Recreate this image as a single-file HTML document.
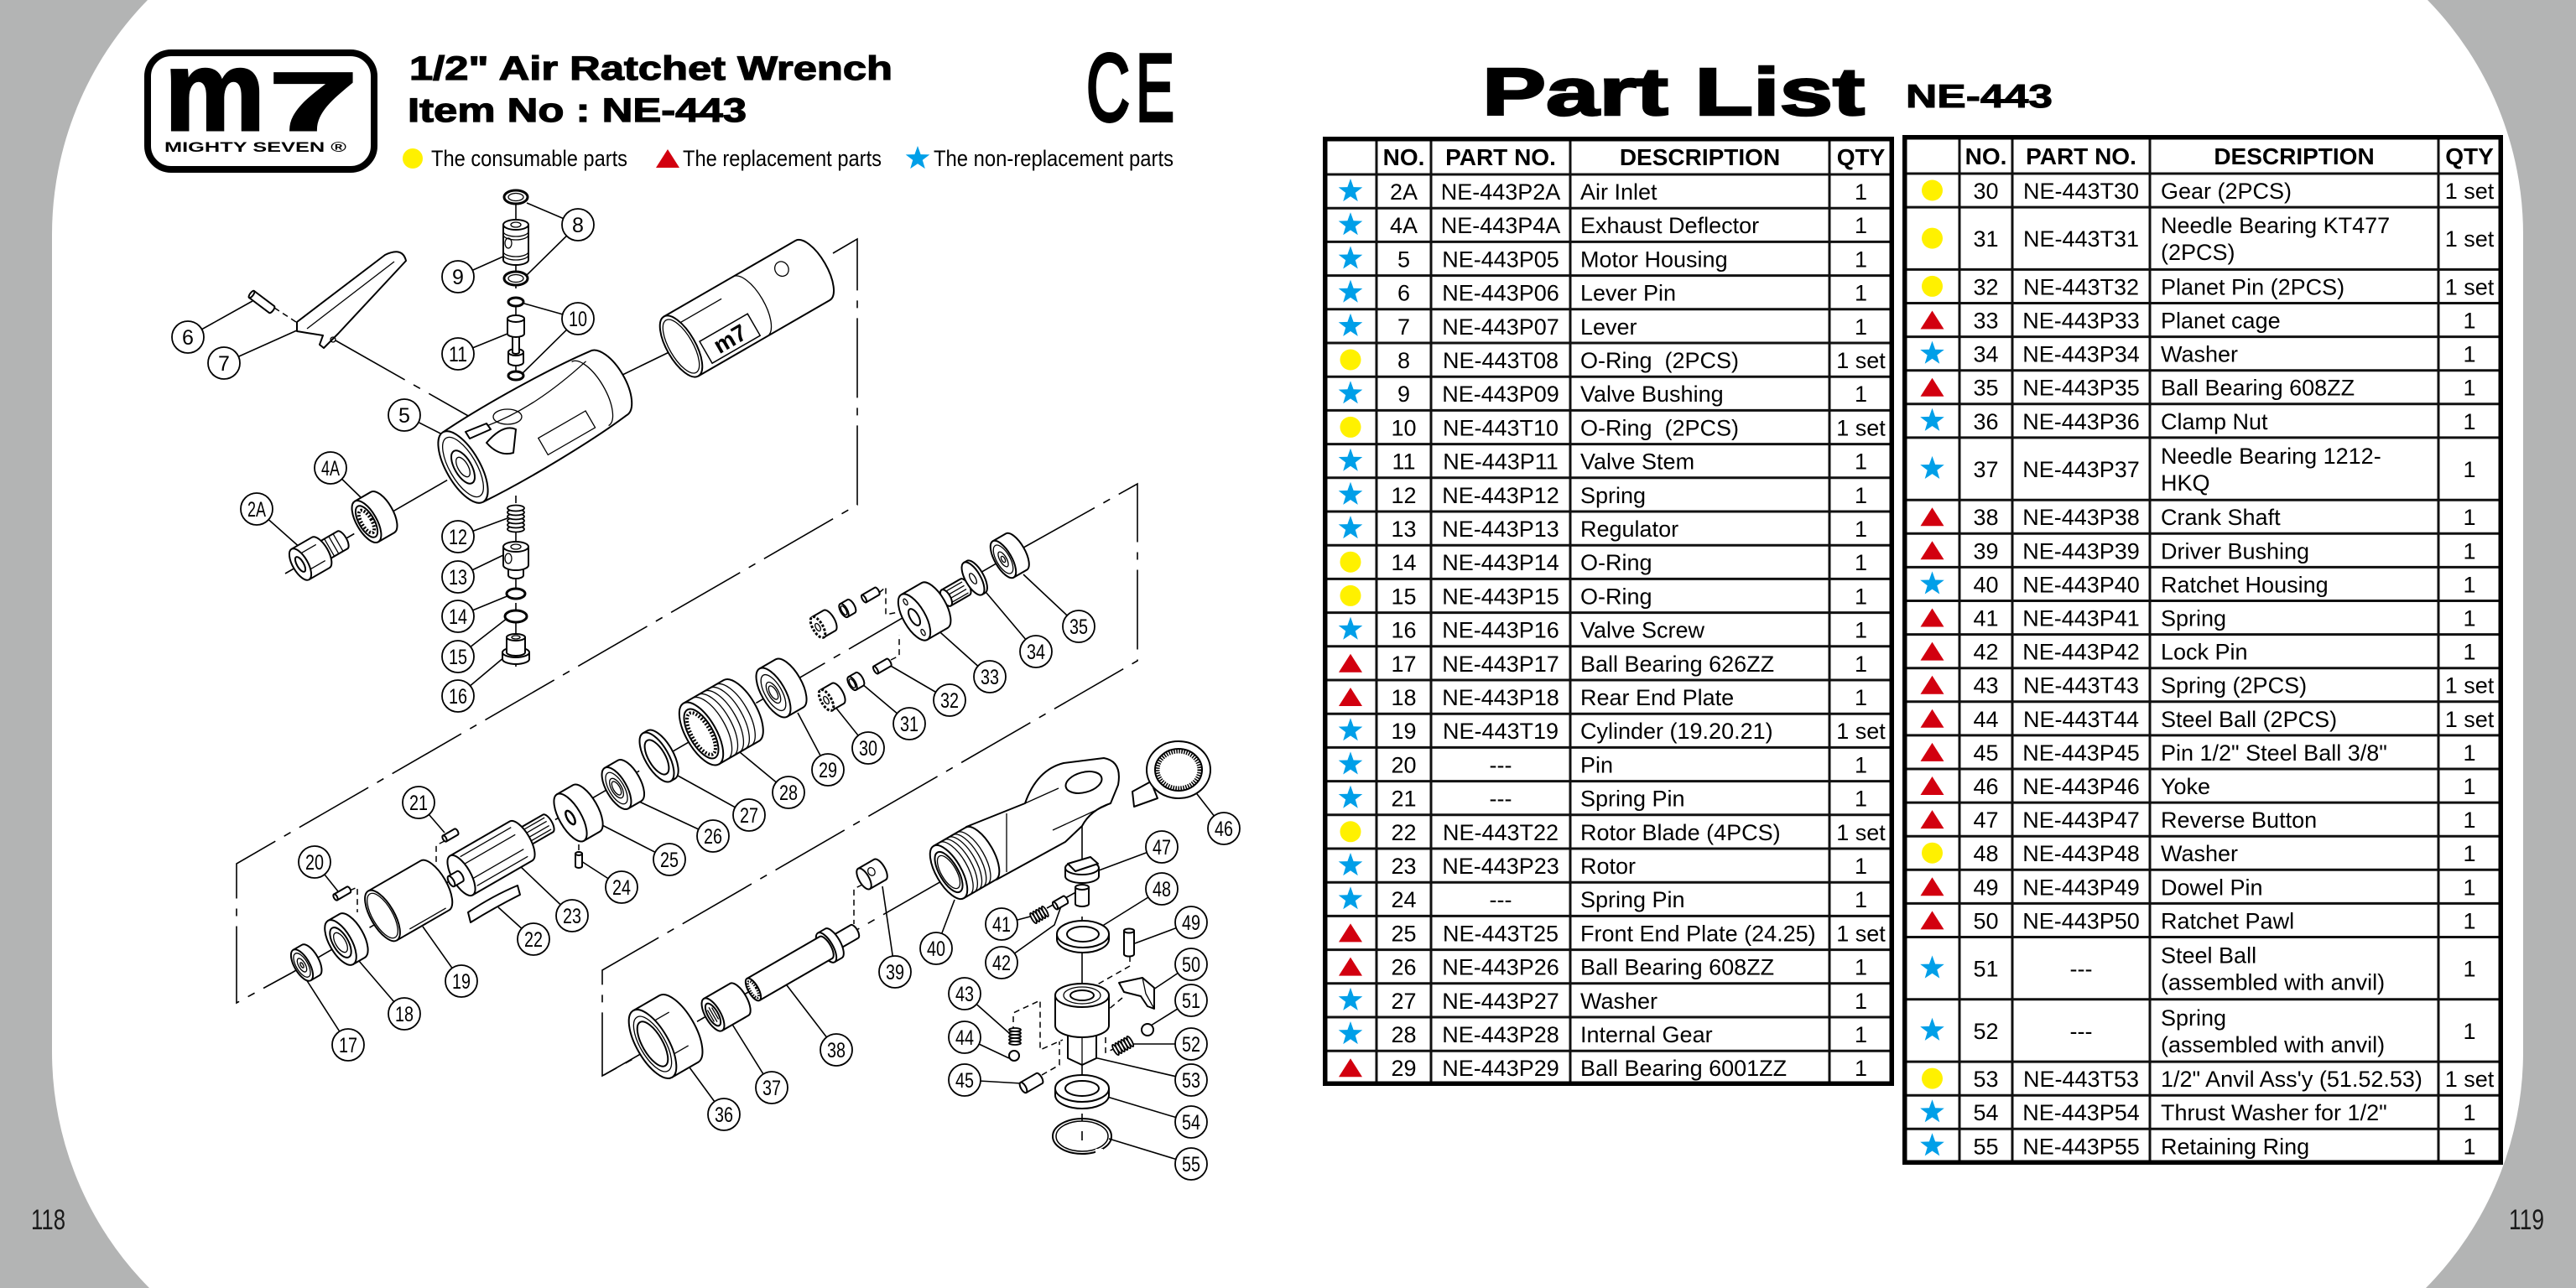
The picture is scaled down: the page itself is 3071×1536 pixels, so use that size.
<!DOCTYPE html>
<html><head><meta charset="utf-8">
<style>
html,body{margin:0;padding:0;background:#b3b4b4;}
body{width:3071px;height:1536px;overflow:hidden;}
svg{display:block}
.s{fill:#fff;stroke:#000;stroke-width:2;stroke-linejoin:round}
.t{fill:none;stroke:#000;stroke-width:1.3}
.ln{fill:none;stroke:#000;stroke-width:1.6}
.dd{fill:none;stroke:#000;stroke-width:1.6;stroke-dasharray:95 12 9 12}
.ds{fill:none;stroke:#000;stroke-width:1.5;stroke-dasharray:7 5}
.o{fill:#fff;stroke:#000;stroke-width:3}
.cc circle{fill:#fff;stroke:#000;stroke-width:1.8}
.cc text{font-family:'Liberation Sans',sans-serif;font-size:25px;text-anchor:middle;fill:#000}
.tb text{font-family:'Liberation Sans',sans-serif;font-size:27px;fill:#000}
.tb .c{text-anchor:middle}
.tb .h{font-weight:bold;font-size:28px;text-anchor:middle}
.tl{fill:none;stroke:#111;stroke-width:3}
.to{fill:none;stroke:#000;stroke-width:5.5}
</style></head>
<body>
<svg width="3071" height="1536" viewBox="0 0 3071 1536" xmlns="http://www.w3.org/2000/svg">
<defs>
<polygon id="st" fill="#009fe8" points="0,-15 3.6,-4.9 14.3,-4.6 5.8,1.9 8.8,12.1 0,6.2 -8.8,12.1 -5.8,1.9 -14.3,-4.6 -3.6,-4.9"/>
<circle id="ye" r="12.5" fill="#fff100"/>
<polygon id="tr" fill="#d2000f" points="0,-11 14,11 -14,11"/>
</defs>
<rect x="0" y="0" width="3071" height="1536" fill="#b3b4b4"/>
<path d="M176,0 A400 400 0 0 0 62,280 L62,1254 A400 400 0 0 0 178,1536 L2892,1536 A400 400 0 0 0 3008,1254 L3008,280 A400 400 0 0 0 2894,0 Z" fill="#fff"/>

<!-- Page numbers -->
<text x="37" y="1466" font-family="'Liberation Sans',sans-serif" font-size="34" textLength="41" lengthAdjust="spacingAndGlyphs" fill="#1a1a1a">118</text>
<text x="2991" y="1466" font-family="'Liberation Sans',sans-serif" font-size="34" textLength="42" lengthAdjust="spacingAndGlyphs" fill="#1a1a1a">119</text>

<!-- Logo -->
<rect x="176" y="63" width="270" height="139" rx="28" ry="28" fill="#fff" stroke="#000" stroke-width="8"/>
<text x="196" y="155" font-family="'Liberation Sans',sans-serif" font-size="135" font-weight="bold" textLength="120" lengthAdjust="spacingAndGlyphs" stroke="#000" stroke-width="3">m</text>
<text x="321" y="155" font-family="'Liberation Sans',sans-serif" font-size="98" font-weight="bold" textLength="105" lengthAdjust="spacingAndGlyphs" stroke="#000" stroke-width="3">7</text>
<text x="196" y="181" font-family="'Liberation Sans',sans-serif" font-size="17" font-weight="bold" textLength="217" lengthAdjust="spacingAndGlyphs">MIGHTY SEVEN ®</text>

<!-- Titles -->
<text x="488" y="95" font-family="'Liberation Sans',sans-serif" font-size="40" font-weight="bold" textLength="576" lengthAdjust="spacingAndGlyphs" stroke="#000" stroke-width="1.2">1/2" Air Ratchet Wrench</text>
<text x="486" y="145" font-family="'Liberation Sans',sans-serif" font-size="40" font-weight="bold" textLength="404" lengthAdjust="spacingAndGlyphs" stroke="#000" stroke-width="1.2">Item No : NE-443</text>
<text x="1295" y="144" font-family="'Liberation Sans',sans-serif" font-size="114" textLength="52" lengthAdjust="spacingAndGlyphs" stroke="#000" stroke-width="4">C</text>
<text x="1354" y="144" font-family="'Liberation Sans',sans-serif" font-size="114" textLength="46" lengthAdjust="spacingAndGlyphs" stroke="#000" stroke-width="4">E</text>

<!-- Legend -->
<ellipse cx="492" cy="189" rx="12" ry="12" fill="#fff100"/>
<text x="514" y="198" font-family="'Liberation Sans',sans-serif" font-size="27" textLength="234" lengthAdjust="spacingAndGlyphs">The consumable parts</text>
<polygon points="796,178 810,200 782,200" fill="#d2000f"/>
<text x="814" y="198" font-family="'Liberation Sans',sans-serif" font-size="27" textLength="237" lengthAdjust="spacingAndGlyphs">The replacement parts</text>
<use href="#st" x="1094" y="189"/>
<text x="1113" y="198" font-family="'Liberation Sans',sans-serif" font-size="27" textLength="286" lengthAdjust="spacingAndGlyphs">The non-replacement parts</text>

<!-- Part List title -->
<text x="1767" y="137" font-family="'Liberation Sans',sans-serif" font-size="80" font-weight="bold" textLength="456" lengthAdjust="spacingAndGlyphs" stroke="#000" stroke-width="2.5">Part List</text>
<text x="2272" y="128" font-family="'Liberation Sans',sans-serif" font-size="39" font-weight="bold" textLength="175" lengthAdjust="spacingAndGlyphs" stroke="#000" stroke-width="1">NE-443</text>

<!-- ============ DIAGRAM: guide lines ============ -->
<path class="dd" d="M993,302 L1022,285 L1022,602 L282,1030 L282,1196 L348,1160"/>
<path class="dd" d="M1222,652 L1356,577 L1356,788 L718,1157 L718,1283 L760,1260"/>
<path class="dd" d="M348,1160 L1222,652"/>
<path class="dd" d="M720,1282 L1150,1035"/>
<path class="dd" d="M340,684 L560,557"/>
<path class="ln" d="M738,449 L812,413"/>
<path class="dd" d="M400,406 L560,497"/>
<path class="ds" d="M327,367 L356,386"/>
<path class="dd" d="M615,228 L615,795"/>
<path class="dd" d="M1290,965 L1290,1360"/>
<path class="ds" d="M1048,707 L1056,700 L1056,733 L1071,730 M1062,787 L1072,782 L1072,757"/>
<path class="ds" d="M530,1003 L520,1008 L520,1033 M417,1062 L426,1058 L426,1088"/>
<path class="ds" d="M690,995 L690,1018"/>
<path class="ds" d="M1028,1055 L1018,1060 L1018,1102"/>
<path class="ds" d="M1208,1243 L1208,1208 L1240,1193 L1240,1252 L1267,1240 M1242,1282 L1263,1270 L1263,1242 M1347,1140 L1347,1152 L1303,1177 M1338,1190 L1320,1205 M1330,1250 L1318,1255 L1318,1232"/>
<path class="ln" d="M1248,1083 L1290,1060"/>

<!-- leader lines -->
<path class="ln" d="M306,607 L360,655 M394,558 L432,595 M482,495 L535,522 M224,402 L301,359 M267,433 L354,394 M689,268 L628,242 M689,268 L628,328 M546,330 L602,305 M689,380 L625,362 M689,380 L622,446 M546,422 L605,398 M546,640 L605,618 M546,688 L600,662 M546,735 L607,710 M546,783 L605,737 M546,830 L602,783 M415,1246 L365,1168 M482,1209 L428,1146 M550,1170 L504,1105 M375,1028 L403,1063 M499,957 L530,993 M636,1120 L594,1082 M682,1092 L619,1032 M741,1058 L693,1027 M798,1025 L714,982 M850,997 L760,955 M893,972 L808,925 M940,945 L882,897 M987,918 L951,850 M1035,892 L995,842 M1084,863 L1027,815 M1132,835 L1060,793 M1180,807 L1113,747 M1235,777 L1176,707 M1286,747 L1220,685 M863,1329 L822,1273 M920,1297 L872,1220 M997,1252 L938,1175 M1067,1159 L1052,1057 M1116,1131 L1138,1073 M1194,1102 L1232,1092 M1194,1148 L1257,1103 L1267,1075 M1150,1185 L1203,1232 M1150,1237 L1203,1262 M1150,1288 L1218,1292 M1459,988 L1424,943 M1385,1010 L1310,1038 M1385,1060 L1308,1108 M1420,1100 L1353,1125 M1420,1150 L1372,1182 M1420,1193 L1372,1223 M1420,1245 L1350,1245 M1420,1288 L1300,1260 M1420,1338 L1320,1308 M1420,1388 L1322,1358"/>

<!-- ============ PARTS ============ -->
<!-- 2A -->
<g transform="translate(358,673) rotate(-30)">
<path class="s" d="M26,-12 H58 A5 12 0 0 1 58,12 H26 Z"/>
<path class="t" d="M34,-12 V12 M40,-12 V12 M46,-12 V12 M52,-12 V12"/>
<path class="s" d="M0,-21 H28 A9 21 0 0 1 28,21 H0 Z"/>
<path class="t" d="M0,-11 H28 M0,11 H28"/>
<ellipse class="s" rx="9" ry="21"/>
<ellipse class="s" rx="4" ry="10"/>
</g>
<!-- 4A -->
<g transform="translate(437,622) rotate(-30)">
<path class="s" d="M0,-28 H22 A12 28 0 0 1 22,28 H0 Z"/>
<ellipse class="s" rx="12" ry="28"/>
<ellipse class="s" rx="9" ry="21"/>
<ellipse fill="none" stroke="#000" stroke-width="4" stroke-dasharray="2 2" rx="6" ry="15"/>
</g>
<!-- 5 housing -->
<g transform="translate(552,557) rotate(-30)">
<path class="s" d="M0,-48 C60,-52 150,-50 200,-44 A20 44 0 0 1 200,44 C150,50 60,52 0,48 Z"/>
<path class="t" d="M40,-30 C90,-20 140,-25 190,-36 M95,15 H160 V38 H95 Z M175,-44 A18 44 0 0 1 175,44"/>
<ellipse class="s" rx="20" ry="48"/>
<ellipse class="t" rx="16" ry="40"/>
<ellipse class="s" rx="10" ry="22"/>
<ellipse class="t" rx="6" ry="13"/>
</g>
<ellipse class="t" cx="605" cy="497" rx="17" ry="9"/>
<path class="s" d="M580,528 Q600,505 615,512 L612,540 Q595,545 580,528 Z"/>
<path class="s" d="M555,515 L580,505 L585,512 L560,523 Z"/>
<!-- tube -->
<g transform="translate(812,413) rotate(-30)">
<path class="s" d="M0,-41 H181 A17 41 0 0 1 181,41 H0 Z"/>
<path class="t" d="M95,-41 A17 41 0 0 1 95,41 M10,-25 H70"/>
<ellipse class="t" cx="150" cy="-20" rx="8" ry="9"/>
<rect x="22" y="6" width="66" height="30" fill="#fff" stroke="#000" stroke-width="1.5"/>
<text x="55" y="31" font-family="'Liberation Sans',sans-serif" font-size="28" font-weight="bold" text-anchor="middle">m7</text>
<ellipse class="s" rx="17" ry="41"/>
<ellipse class="t" rx="14" ry="36"/>
</g>
<!-- 7 lever, 6 pin -->
<path class="s" d="M354,384 L459,304 Q480,294 484,311 L403,398 L386,415 L381,411 L385,400 L366,397 L354,395 Z"/>
<path class="t" d="M366,392 L470,312"/>
<ellipse class="t" cx="397" cy="405" rx="3" ry="3"/>
<g transform="translate(300,351) rotate(37)">
<path class="s" d="M0,-5 H30 A2 5 0 0 1 30,5 H0 Z"/><ellipse class="s" rx="2" ry="5"/>
</g>
<!-- vertical group 8-16 -->
<ellipse class="o" cx="615" cy="235" rx="14" ry="8"/><ellipse class="t" cx="615" cy="235" rx="9" ry="4.5"/>
<g transform="translate(615,268) rotate(90)">
<path class="s" d="M0,-15 H42 A6 15 0 0 1 42,15 H0 Z"/>
<path class="t" d="M8,-15 A6 15 0 0 1 8,15 M12,-15 A6 15 0 0 1 12,15 M32,-15 A6 15 0 0 1 32,15 M36,-15 A6 15 0 0 1 36,15"/>
<ellipse class="s" rx="6" ry="15"/><ellipse class="t" rx="3" ry="6"/>
</g>
<ellipse class="t" cx="606" cy="290" rx="4" ry="6"/>
<ellipse class="o" cx="615" cy="332" rx="14" ry="8"/><ellipse class="t" cx="615" cy="332" rx="9" ry="4.5"/>
<ellipse class="o" cx="615" cy="360" rx="9" ry="5"/>
<g transform="translate(615,420) rotate(90)"><path class="s" d="M0,-9 H12 A4 9 0 0 1 12,9 H0 Z"/><ellipse class="s" rx="4" ry="9"/></g>
<g transform="translate(615,398) rotate(90)"><path class="s" d="M0,-4 H22 A2 4 0 0 1 22,4 H0 Z"/><ellipse class="s" rx="2" ry="4"/></g>
<g transform="translate(615,380) rotate(90)"><path class="s" d="M0,-10 H18 A4 10 0 0 1 18,10 H0 Z"/><ellipse class="s" rx="4" ry="10"/></g>
<ellipse class="o" cx="615" cy="448" rx="9" ry="5"/>
<g fill="#fff" stroke="#000" stroke-width="1.8">
<ellipse cx="615" cy="631" rx="10" ry="3.5"/><ellipse cx="615" cy="626" rx="10" ry="3.5"/><ellipse cx="615" cy="621" rx="10" ry="3.5"/><ellipse cx="615" cy="616" rx="10" ry="3.5"/><ellipse cx="615" cy="611" rx="10" ry="3.5"/><ellipse cx="615" cy="606" rx="10" ry="3.5"/>
</g>
<g transform="translate(615,672) rotate(90)"><path class="s" d="M0,-9 H14 A4 9 0 0 1 14,9 H0 Z"/><ellipse class="s" rx="4" ry="9"/></g>
<g transform="translate(615,652) rotate(90)"><path class="s" d="M0,-15 H22 A6 15 0 0 1 22,15 H0 Z"/><ellipse class="s" rx="6" ry="15"/><ellipse class="t" rx="3" ry="6"/></g>
<ellipse class="t" cx="606" cy="666" rx="4" ry="6"/>
<ellipse class="o" cx="615" cy="708" rx="11" ry="6"/>
<ellipse class="o" cx="615" cy="735" rx="13" ry="7"/>
<g transform="translate(615,778) rotate(90)"><path class="s" d="M0,-16 H8 A6 16 0 0 1 8,16 H0 Z"/><ellipse class="s" rx="6" ry="16"/></g>
<g transform="translate(615,760) rotate(90)"><path class="s" d="M0,-11 H18 A4 11 0 0 1 18,11 H0 Z"/><ellipse class="s" rx="4" ry="11"/><ellipse class="t" rx="2" ry="5"/></g>

<!-- motor group -->
<g transform="translate(360,1151) rotate(-30)"><path class="s" d="M0,-21 H12 A9 21 0 0 1 12,21 H0 Z"/><ellipse class="s" rx="9" ry="21"/><ellipse class="t" rx="7" ry="16"/><ellipse class="t" rx="4" ry="9"/><ellipse class="t" rx="1.5" ry="3.5"/></g>
<g transform="translate(406,1124) rotate(-30)"><path class="s" d="M0,-30 H16 A13 30 0 0 1 16,30 H0 Z"/><ellipse class="s" rx="13" ry="30"/><ellipse class="s" rx="9" ry="20"/><ellipse class="t" rx="6" ry="13"/></g>
<g transform="translate(456,1092) rotate(-30)"><path class="s" d="M0,-34 H72 A14 34 0 0 1 72,34 H0 Z"/><path class="t" d="M20,30 H70"/><ellipse class="s" rx="14" ry="34"/><ellipse class="t" rx="12" ry="30"/></g>
<g transform="translate(400,1070) rotate(-30)"><path class="s" d="M0,-4 H18 A2 4 0 0 1 18,4 H0 Z"/><ellipse class="s" rx="2" ry="4"/></g>
<g transform="translate(530,1000) rotate(-30)"><path class="s" d="M0,-4 H16 A2 4 0 0 1 16,4 H0 Z"/><ellipse class="s" rx="2" ry="4"/></g>
<path class="s" d="M558,1088 Q588,1068 617,1056 L620,1067 Q590,1082 561,1100 Z"/>
<g transform="translate(622,1000) rotate(-30)"><path class="s" d="M0,-12 H36 A5 12 0 0 1 36,12 H0 Z"/><path class="t" d="M4,-8 H36 M4,-3 H36 M4,3 H36 M4,8 H36"/><ellipse class="s" rx="5" ry="12"/></g>
<g transform="translate(550,1044) rotate(-30)"><path class="s" d="M0,-27 H82 A11 27 0 0 1 82,27 H0 Z"/><path class="t" d="M10,-20 H80 M10,-10 H80 M10,10 H80 M10,20 H80"/><ellipse class="s" rx="11" ry="27"/></g>
<g transform="translate(538,1051) rotate(-30)"><path class="s" d="M0,-7 H12 A3 7 0 0 1 12,7 H0 Z"/><ellipse class="s" rx="3" ry="7"/></g>
<g transform="translate(690,1018) rotate(90)"><path class="s" d="M0,-4 H15 A2 4 0 0 1 15,4 H0 Z"/><ellipse class="s" rx="2" ry="4"/></g>
<g transform="translate(680,975) rotate(-30)"><path class="s" d="M0,-32 H22 A13 32 0 0 1 22,32 H0 Z"/><ellipse class="s" rx="13" ry="32"/><ellipse fill="#fff" stroke="#000" stroke-width="2.5" rx="4" ry="9"/></g>
<g transform="translate(735,940) rotate(-30)"><path class="s" d="M0,-28 H18 A12 28 0 0 1 18,28 H0 Z"/><ellipse class="s" rx="12" ry="28"/><ellipse class="t" rx="9" ry="21"/><ellipse class="t" rx="6" ry="13"/><ellipse class="t" rx="4" ry="9"/></g>
<g transform="translate(783,903) rotate(-30)"><path class="s" d="M0,-33 H6 A14 33 0 0 1 6,33 H0 Z"/><ellipse class="s" rx="14" ry="33"/><ellipse class="s" rx="10" ry="23"/></g>
<g transform="translate(836,875) rotate(-30)"><path class="s" d="M0,-42 H55 A18 42 0 0 1 55,42 H0 Z"/><path class="t" d="M12,-42 A18 42 0 0 1 12,42 M20,-42 A18 42 0 0 1 20,42 M28,-42 A18 42 0 0 1 28,42 M36,-42 A18 42 0 0 1 36,42 M44,-42 A18 42 0 0 1 44,42"/><ellipse class="s" rx="18" ry="42"/><ellipse class="s" rx="14" ry="33"/><ellipse fill="none" stroke="#000" stroke-width="4" stroke-dasharray="2 2" rx="11" ry="28"/></g>
<g transform="translate(922,826) rotate(-30)"><path class="s" d="M0,-33 H22 A14 33 0 0 1 22,33 H0 Z"/><ellipse class="s" rx="14" ry="33"/><ellipse class="t" rx="10" ry="24"/><ellipse class="t" rx="6" ry="14"/><ellipse class="t" rx="4" ry="9"/></g>
<g transform="translate(975,748) rotate(-30)"><path class="s" d="M0,-14 H16 A6 14 0 0 1 16,14 H0 Z"/><ellipse fill="#fff" stroke="#000" stroke-width="3" stroke-dasharray="3 2" rx="6" ry="14"/><ellipse class="t" rx="2.5" ry="5"/></g>
<g transform="translate(985,835) rotate(-30)"><path class="s" d="M0,-14 H16 A6 14 0 0 1 16,14 H0 Z"/><ellipse fill="#fff" stroke="#000" stroke-width="3" stroke-dasharray="3 2" rx="6" ry="14"/><ellipse class="t" rx="2.5" ry="5"/></g>
<g transform="translate(1006,728) rotate(-30)"><path class="s" d="M0,-9 H10 A4 9 0 0 1 10,9 H0 Z"/><ellipse class="s" rx="4" ry="9"/><ellipse class="t" rx="2.5" ry="6"/></g>
<g transform="translate(1016,815) rotate(-30)"><path class="s" d="M0,-9 H10 A4 9 0 0 1 10,9 H0 Z"/><ellipse class="s" rx="4" ry="9"/><ellipse class="t" rx="2.5" ry="6"/></g>
<g transform="translate(1030,714) rotate(-30)"><path class="s" d="M0,-5 H18 A2 5 0 0 1 18,5 H0 Z"/><ellipse class="s" rx="2" ry="5"/></g>
<g transform="translate(1044,799) rotate(-30)"><path class="s" d="M0,-5 H18 A2 5 0 0 1 18,5 H0 Z"/><ellipse class="s" rx="2" ry="5"/></g>
<g transform="translate(1128,713) rotate(-30)"><path class="s" d="M0,-11 H26 A5 11 0 0 1 26,11 H0 Z"/><path class="t" d="M3,-7 H26 M3,-2 H26 M3,3 H26 M3,8 H26"/><ellipse class="s" rx="5" ry="11"/></g>
<g transform="translate(1090,736) rotate(-30)"><path class="s" d="M0,-31 H28 A13 31 0 0 1 28,31 H0 Z"/><ellipse class="s" rx="13" ry="31"/><ellipse class="s" rx="5" ry="11"/><ellipse class="t" cx="0" cy="-21" rx="2" ry="4"/><ellipse class="t" cx="0" cy="21" rx="2" ry="4"/></g>
<g transform="translate(1160,690) rotate(-30)"><path class="s" d="M0,-22 H4 A9 22 0 0 1 4,22 H0 Z"/><ellipse class="s" rx="9" ry="22"/><ellipse class="t" rx="3" ry="7"/></g>
<g transform="translate(1196,667) rotate(-30)"><path class="s" d="M0,-25 H18 A10 25 0 0 1 18,25 H0 Z"/><ellipse class="s" rx="10" ry="25"/><ellipse class="t" rx="8" ry="19"/><ellipse class="t" rx="4" ry="10"/><ellipse class="t" rx="2" ry="4"/></g>

<!-- ratchet group -->
<g transform="translate(778,1245) rotate(-30)"><path class="s" d="M0,-46 H36 A19 46 0 0 1 36,46 H0 Z"/><path class="t" d="M0,-23 H36 M0,23 H36"/><ellipse class="s" rx="19" ry="46"/><ellipse class="t" rx="15" ry="37"/><ellipse class="s" rx="12" ry="30"/></g>
<g transform="translate(850,1210) rotate(-30)"><path class="s" d="M0,-22 H36 A9 22 0 0 1 36,22 H0 Z"/><ellipse class="s" rx="9" ry="22"/><ellipse class="s" rx="6" ry="15"/><path class="t" d="M-3,-8 V8 M0,-10 V10 M3,-8 V8"/></g>
<g transform="translate(996,1124) rotate(-30)"><path class="s" d="M0,-9 H26 A4 9 0 0 1 26,9 H0 Z"/><ellipse class="s" rx="4" ry="9"/></g>
<g transform="translate(985,1130) rotate(-30)"><path class="s" d="M0,-20 H10 A8 20 0 0 1 10,20 H0 Z"/><ellipse class="s" rx="8" ry="20"/></g>
<g transform="translate(898,1180) rotate(-30)"><path class="s" d="M0,-15 H100 A6 15 0 0 1 100,15 H0 Z"/><ellipse class="s" rx="6" ry="15"/><ellipse fill="none" stroke="#000" stroke-width="3" stroke-dasharray="1.5 1.5" rx="4" ry="11"/></g>
<g transform="translate(1030,1048) rotate(-30)"><path class="s" d="M0,-14 H22 A6 14 0 0 1 22,14 H0 Z"/><ellipse class="s" rx="6" ry="14"/><ellipse class="t" cx="12" cy="-3" rx="4" ry="5"/></g>
<path class="s" d="M1152,986 L1222,958 Q1236,918 1268,910 L1316,904 Q1338,908 1333,936 L1324,958 Q1300,966 1290,985 L1270,1004 L1188,1049 Z"/>
<ellipse class="s" cx="1292" cy="933" rx="22" ry="12" transform="rotate(-15 1292 933)"/>
<path class="t" d="M1222,958 L1262,940 M1255,990 L1320,960 M1200,970 L1200,1040"/>
<g transform="translate(1131,1040) rotate(-30)"><path class="s" d="M0,-36 H44 A15 36 0 0 1 44,36 H0 Z"/><path class="t" d="M8,-36 A15 36 0 0 1 8,36 M14,-36 A15 36 0 0 1 14,36 M20,-36 A15 36 0 0 1 20,36 M26,-36 A15 36 0 0 1 26,36 M32,-36 A15 36 0 0 1 32,36"/><ellipse class="s" rx="15" ry="36"/><ellipse class="s" rx="11" ry="27"/><ellipse class="t" rx="9" ry="22"/></g>
<!-- yoke 46 -->
<path class="s" d="M1372,932 L1350,944 L1352,962 L1380,952 Z"/>
<ellipse class="s" cx="1405" cy="918" rx="38" ry="34"/>
<ellipse class="s" cx="1405" cy="918" rx="28" ry="25"/>
<ellipse fill="none" stroke="#000" stroke-width="5" stroke-dasharray="1.5 1.5" cx="1405" cy="918" rx="25" ry="22"/>

<!-- anvil group -->
<g transform="translate(1290,1058) rotate(90)"><path class="s" d="M0,-8 H20 A3 8 0 0 1 20,8 H0 Z"/><ellipse class="s" rx="3" ry="8"/></g>
<g transform="translate(1290,1035) rotate(90)"><path class="s" d="M0,-20 H10 A8 20 0 0 1 10,20 H0 Z"/><ellipse class="s" rx="8" ry="20"/></g>
<path class="s" d="M1273,1030 L1300,1022 L1309,1030 L1282,1039 Z"/>
<g transform="translate(1258,1080) rotate(-30)"><path class="s" d="M0,-5 H14 A2 5 0 0 1 14,5 H0 Z"/><ellipse class="s" rx="2" ry="5"/></g>
<g transform="translate(1232,1095) rotate(-30)" fill="#fff" stroke="#000" stroke-width="1.8"><ellipse cx="0" rx="2" ry="7"/><ellipse cx="4" rx="2" ry="7"/><ellipse cx="8" rx="2" ry="7"/><ellipse cx="12" rx="2" ry="7"/><ellipse cx="16" rx="2" ry="7"/></g>
<g transform="translate(1291,1114) rotate(90)"><path class="s" d="M0,-31 H6 A16 31 0 0 1 6,31 H0 Z"/><ellipse class="s" rx="16" ry="31"/><ellipse class="s" rx="9" ry="19"/></g>
<g transform="translate(1346,1110) rotate(90)"><path class="s" d="M0,-6 H28 A2.5 6 0 0 1 28,6 H0 Z"/><ellipse class="s" rx="2.5" ry="6"/></g>
<path class="s" d="M1334,1172 L1362,1166 L1376,1178 L1376,1203 L1368,1200 L1360,1188 L1340,1183 Z"/>
<path class="t" d="M1362,1166 L1366,1185 L1376,1203"/>
<path class="s" d="M1273,1228 L1307,1228 L1307,1262 L1290,1270 L1273,1262 Z"/>
<path class="t" d="M1290,1238 V1270"/>
<g transform="translate(1290,1187) rotate(90)"><path class="s" d="M0,-32 H36 A14 32 0 0 1 36,32 H0 Z"/><ellipse class="s" rx="14" ry="32"/><ellipse class="t" rx="10" ry="22"/><ellipse class="s" rx="6" ry="14"/></g>
<circle class="s" cx="1368" cy="1228" r="7"/>
<g transform="translate(1330,1252) rotate(-30)" fill="#fff" stroke="#000" stroke-width="1.8"><ellipse cx="0" rx="2" ry="7"/><ellipse cx="4" rx="2" ry="7"/><ellipse cx="8" rx="2" ry="7"/><ellipse cx="12" rx="2" ry="7"/><ellipse cx="16" rx="2" ry="7"/><ellipse cx="20" rx="2" ry="7"/></g>
<g transform="translate(1210,1228) rotate(90)" fill="#fff" stroke="#000" stroke-width="1.8"><ellipse cx="0" rx="2" ry="7"/><ellipse cx="4" rx="2" ry="7"/><ellipse cx="8" rx="2" ry="7"/><ellipse cx="12" rx="2" ry="7"/><ellipse cx="16" rx="2" ry="7"/></g>
<circle class="s" cx="1209" cy="1259" r="6"/>
<g transform="translate(1220,1297) rotate(-30)"><path class="s" d="M0,-7 H22 A3 7 0 0 1 22,7 H0 Z"/><ellipse class="s" rx="3" ry="7"/></g>
<g transform="translate(1290,1298) rotate(90)"><path class="s" d="M0,-32 H8 A16 32 0 0 1 8,32 H0 Z"/><ellipse class="s" rx="16" ry="32"/><ellipse class="s" rx="9" ry="20"/></g>
<ellipse fill="none" stroke="#000" stroke-width="2" cx="1290" cy="1355" rx="35" ry="21"/>
<ellipse fill="none" stroke="#000" stroke-width="1.5" cx="1290" cy="1355" rx="31" ry="18"/>
<rect x="1306" y="1370" width="9" height="9" fill="#fff"/>

<!-- callout circles -->
<g class="cc">
<circle cx="306" cy="607" r="19"/><text x="306" y="616" textLength="22" lengthAdjust="spacingAndGlyphs">2A</text>
<circle cx="394" cy="558" r="19"/><text x="394" y="567" textLength="22" lengthAdjust="spacingAndGlyphs">4A</text>
<circle cx="482" cy="495" r="19"/><text x="482" y="504">5</text>
<circle cx="224" cy="402" r="19"/><text x="224" y="411">6</text>
<circle cx="267" cy="433" r="19"/><text x="267" y="442">7</text>
<circle cx="689" cy="268" r="19"/><text x="689" y="277">8</text>
<circle cx="546" cy="330" r="19"/><text x="546" y="339">9</text>
<circle cx="689" cy="380" r="19"/><text x="689" y="389" textLength="22" lengthAdjust="spacingAndGlyphs">10</text>
<circle cx="546" cy="422" r="19"/><text x="546" y="431" textLength="22" lengthAdjust="spacingAndGlyphs">11</text>
<circle cx="546" cy="640" r="19"/><text x="546" y="649" textLength="22" lengthAdjust="spacingAndGlyphs">12</text>
<circle cx="546" cy="688" r="19"/><text x="546" y="697" textLength="22" lengthAdjust="spacingAndGlyphs">13</text>
<circle cx="546" cy="735" r="19"/><text x="546" y="744" textLength="22" lengthAdjust="spacingAndGlyphs">14</text>
<circle cx="546" cy="783" r="19"/><text x="546" y="792" textLength="22" lengthAdjust="spacingAndGlyphs">15</text>
<circle cx="546" cy="830" r="19"/><text x="546" y="839" textLength="22" lengthAdjust="spacingAndGlyphs">16</text>
<circle cx="415" cy="1246" r="19"/><text x="415" y="1255" textLength="22" lengthAdjust="spacingAndGlyphs">17</text>
<circle cx="482" cy="1209" r="19"/><text x="482" y="1218" textLength="22" lengthAdjust="spacingAndGlyphs">18</text>
<circle cx="550" cy="1170" r="19"/><text x="550" y="1179" textLength="22" lengthAdjust="spacingAndGlyphs">19</text>
<circle cx="375" cy="1028" r="19"/><text x="375" y="1037" textLength="22" lengthAdjust="spacingAndGlyphs">20</text>
<circle cx="499" cy="957" r="19"/><text x="499" y="966" textLength="22" lengthAdjust="spacingAndGlyphs">21</text>
<circle cx="636" cy="1120" r="19"/><text x="636" y="1129" textLength="22" lengthAdjust="spacingAndGlyphs">22</text>
<circle cx="682" cy="1092" r="19"/><text x="682" y="1101" textLength="22" lengthAdjust="spacingAndGlyphs">23</text>
<circle cx="741" cy="1058" r="19"/><text x="741" y="1067" textLength="22" lengthAdjust="spacingAndGlyphs">24</text>
<circle cx="798" cy="1025" r="19"/><text x="798" y="1034" textLength="22" lengthAdjust="spacingAndGlyphs">25</text>
<circle cx="850" cy="997" r="19"/><text x="850" y="1006" textLength="22" lengthAdjust="spacingAndGlyphs">26</text>
<circle cx="893" cy="972" r="19"/><text x="893" y="981" textLength="22" lengthAdjust="spacingAndGlyphs">27</text>
<circle cx="940" cy="945" r="19"/><text x="940" y="954" textLength="22" lengthAdjust="spacingAndGlyphs">28</text>
<circle cx="987" cy="918" r="19"/><text x="987" y="927" textLength="22" lengthAdjust="spacingAndGlyphs">29</text>
<circle cx="1035" cy="892" r="19"/><text x="1035" y="901" textLength="22" lengthAdjust="spacingAndGlyphs">30</text>
<circle cx="1084" cy="863" r="19"/><text x="1084" y="872" textLength="22" lengthAdjust="spacingAndGlyphs">31</text>
<circle cx="1132" cy="835" r="19"/><text x="1132" y="844" textLength="22" lengthAdjust="spacingAndGlyphs">32</text>
<circle cx="1180" cy="807" r="19"/><text x="1180" y="816" textLength="22" lengthAdjust="spacingAndGlyphs">33</text>
<circle cx="1235" cy="777" r="19"/><text x="1235" y="786" textLength="22" lengthAdjust="spacingAndGlyphs">34</text>
<circle cx="1286" cy="747" r="19"/><text x="1286" y="756" textLength="22" lengthAdjust="spacingAndGlyphs">35</text>
<circle cx="863" cy="1329" r="19"/><text x="863" y="1338" textLength="22" lengthAdjust="spacingAndGlyphs">36</text>
<circle cx="920" cy="1297" r="19"/><text x="920" y="1306" textLength="22" lengthAdjust="spacingAndGlyphs">37</text>
<circle cx="997" cy="1252" r="19"/><text x="997" y="1261" textLength="22" lengthAdjust="spacingAndGlyphs">38</text>
<circle cx="1067" cy="1159" r="19"/><text x="1067" y="1168" textLength="22" lengthAdjust="spacingAndGlyphs">39</text>
<circle cx="1116" cy="1131" r="19"/><text x="1116" y="1140" textLength="22" lengthAdjust="spacingAndGlyphs">40</text>
<circle cx="1194" cy="1102" r="19"/><text x="1194" y="1111" textLength="22" lengthAdjust="spacingAndGlyphs">41</text>
<circle cx="1194" cy="1148" r="19"/><text x="1194" y="1157" textLength="22" lengthAdjust="spacingAndGlyphs">42</text>
<circle cx="1150" cy="1185" r="19"/><text x="1150" y="1194" textLength="22" lengthAdjust="spacingAndGlyphs">43</text>
<circle cx="1150" cy="1237" r="19"/><text x="1150" y="1246" textLength="22" lengthAdjust="spacingAndGlyphs">44</text>
<circle cx="1150" cy="1288" r="19"/><text x="1150" y="1297" textLength="22" lengthAdjust="spacingAndGlyphs">45</text>
<circle cx="1459" cy="988" r="19"/><text x="1459" y="997" textLength="22" lengthAdjust="spacingAndGlyphs">46</text>
<circle cx="1385" cy="1010" r="19"/><text x="1385" y="1019" textLength="22" lengthAdjust="spacingAndGlyphs">47</text>
<circle cx="1385" cy="1060" r="19"/><text x="1385" y="1069" textLength="22" lengthAdjust="spacingAndGlyphs">48</text>
<circle cx="1420" cy="1100" r="19"/><text x="1420" y="1109" textLength="22" lengthAdjust="spacingAndGlyphs">49</text>
<circle cx="1420" cy="1150" r="19"/><text x="1420" y="1159" textLength="22" lengthAdjust="spacingAndGlyphs">50</text>
<circle cx="1420" cy="1193" r="19"/><text x="1420" y="1202" textLength="22" lengthAdjust="spacingAndGlyphs">51</text>
<circle cx="1420" cy="1245" r="19"/><text x="1420" y="1254" textLength="22" lengthAdjust="spacingAndGlyphs">52</text>
<circle cx="1420" cy="1288" r="19"/><text x="1420" y="1297" textLength="22" lengthAdjust="spacingAndGlyphs">53</text>
<circle cx="1420" cy="1338" r="19"/><text x="1420" y="1347" textLength="22" lengthAdjust="spacingAndGlyphs">54</text>
<circle cx="1420" cy="1388" r="19"/><text x="1420" y="1397" textLength="22" lengthAdjust="spacingAndGlyphs">55</text>
</g>

<!-- ============ LEFT TABLE ============ -->
<g class="tb">
<rect x="1579.75" y="165.75" width="675.5" height="1126.5" fill="#fff"/>
<path class="tl" d="M1641,165V1293 M1706,165V1293 M1872,165V1293 M2181,165V1293"/>
<path class="tl" d="M1578,208H2256 M1578,248.2H2256 M1578,288.4H2256 M1578,328.6H2256 M1578,368.8H2256 M1578,409H2256 M1578,449.2H2256 M1578,489.4H2256 M1578,529.6H2256 M1578,569.8H2256 M1578,610H2256 M1578,650.2H2256 M1578,690.4H2256 M1578,730.6H2256 M1578,770.8H2256 M1578,811H2256 M1578,851.2H2256 M1578,891.4H2256 M1578,931.6H2256 M1578,971.8H2256 M1578,1012H2256 M1578,1052.2H2256 M1578,1092.4H2256 M1578,1132.6H2256 M1578,1172.8H2256 M1578,1213H2256 M1578,1253.2H2256"/>
<rect class="to" x="1579.75" y="165.75" width="675.5" height="1126.5"/>
<text class="h" x="1673.5" y="197">NO.</text><text class="h" x="1789" y="197">PART NO.</text><text class="h" x="2026.5" y="197">DESCRIPTION</text><text class="h" x="2218.5" y="197">QTY</text>

<g transform="translate(0,208)"><use href="#st" x="1610" y="20"/><text class="c" x="1673.5" y="30">2A</text><text class="c" x="1789" y="30">NE-443P2A</text><text x="1884" y="30">Air Inlet</text><text class="c" x="2218.5" y="30">1</text></g>
<g transform="translate(0,248.2)"><use href="#st" x="1610" y="20"/><text class="c" x="1673.5" y="30">4A</text><text class="c" x="1789" y="30">NE-443P4A</text><text x="1884" y="30">Exhaust Deflector</text><text class="c" x="2218.5" y="30">1</text></g>
<g transform="translate(0,288.4)"><use href="#st" x="1610" y="20"/><text class="c" x="1673.5" y="30">5</text><text class="c" x="1789" y="30">NE-443P05</text><text x="1884" y="30">Motor Housing</text><text class="c" x="2218.5" y="30">1</text></g>
<g transform="translate(0,328.6)"><use href="#st" x="1610" y="20"/><text class="c" x="1673.5" y="30">6</text><text class="c" x="1789" y="30">NE-443P06</text><text x="1884" y="30">Lever Pin</text><text class="c" x="2218.5" y="30">1</text></g>
<g transform="translate(0,368.8)"><use href="#st" x="1610" y="20"/><text class="c" x="1673.5" y="30">7</text><text class="c" x="1789" y="30">NE-443P07</text><text x="1884" y="30">Lever</text><text class="c" x="2218.5" y="30">1</text></g>
<g transform="translate(0,409)"><use href="#ye" x="1610" y="20"/><text class="c" x="1673.5" y="30">8</text><text class="c" x="1789" y="30">NE-443T08</text><text x="1884" y="30">O-Ring&#160; (2PCS)</text><text class="c" x="2218.5" y="30">1 set</text></g>
<g transform="translate(0,449.2)"><use href="#st" x="1610" y="20"/><text class="c" x="1673.5" y="30">9</text><text class="c" x="1789" y="30">NE-443P09</text><text x="1884" y="30">Valve Bushing</text><text class="c" x="2218.5" y="30">1</text></g>
<g transform="translate(0,489.4)"><use href="#ye" x="1610" y="20"/><text class="c" x="1673.5" y="30">10</text><text class="c" x="1789" y="30">NE-443T10</text><text x="1884" y="30">O-Ring&#160; (2PCS)</text><text class="c" x="2218.5" y="30">1 set</text></g>
<g transform="translate(0,529.6)"><use href="#st" x="1610" y="20"/><text class="c" x="1673.5" y="30">11</text><text class="c" x="1789" y="30">NE-443P11</text><text x="1884" y="30">Valve Stem</text><text class="c" x="2218.5" y="30">1</text></g>
<g transform="translate(0,569.8)"><use href="#st" x="1610" y="20"/><text class="c" x="1673.5" y="30">12</text><text class="c" x="1789" y="30">NE-443P12</text><text x="1884" y="30">Spring</text><text class="c" x="2218.5" y="30">1</text></g>
<g transform="translate(0,610)"><use href="#st" x="1610" y="20"/><text class="c" x="1673.5" y="30">13</text><text class="c" x="1789" y="30">NE-443P13</text><text x="1884" y="30">Regulator</text><text class="c" x="2218.5" y="30">1</text></g>
<g transform="translate(0,650.2)"><use href="#ye" x="1610" y="20"/><text class="c" x="1673.5" y="30">14</text><text class="c" x="1789" y="30">NE-443P14</text><text x="1884" y="30">O-Ring</text><text class="c" x="2218.5" y="30">1</text></g>
<g transform="translate(0,690.4)"><use href="#ye" x="1610" y="20"/><text class="c" x="1673.5" y="30">15</text><text class="c" x="1789" y="30">NE-443P15</text><text x="1884" y="30">O-Ring</text><text class="c" x="2218.5" y="30">1</text></g>
<g transform="translate(0,730.6)"><use href="#st" x="1610" y="20"/><text class="c" x="1673.5" y="30">16</text><text class="c" x="1789" y="30">NE-443P16</text><text x="1884" y="30">Valve Screw</text><text class="c" x="2218.5" y="30">1</text></g>
<g transform="translate(0,770.8)"><use href="#tr" x="1610" y="20"/><text class="c" x="1673.5" y="30">17</text><text class="c" x="1789" y="30">NE-443P17</text><text x="1884" y="30">Ball Bearing 626ZZ</text><text class="c" x="2218.5" y="30">1</text></g>
<g transform="translate(0,811)"><use href="#tr" x="1610" y="20"/><text class="c" x="1673.5" y="30">18</text><text class="c" x="1789" y="30">NE-443P18</text><text x="1884" y="30">Rear End Plate</text><text class="c" x="2218.5" y="30">1</text></g>
<g transform="translate(0,851.2)"><use href="#st" x="1610" y="20"/><text class="c" x="1673.5" y="30">19</text><text class="c" x="1789" y="30">NE-443T19</text><text x="1884" y="30">Cylinder (19.20.21)</text><text class="c" x="2218.5" y="30">1 set</text></g>
<g transform="translate(0,891.4)"><use href="#st" x="1610" y="20"/><text class="c" x="1673.5" y="30">20</text><text class="c" x="1789" y="30">---</text><text x="1884" y="30">Pin</text><text class="c" x="2218.5" y="30">1</text></g>
<g transform="translate(0,931.6)"><use href="#st" x="1610" y="20"/><text class="c" x="1673.5" y="30">21</text><text class="c" x="1789" y="30">---</text><text x="1884" y="30">Spring Pin</text><text class="c" x="2218.5" y="30">1</text></g>
<g transform="translate(0,971.8)"><use href="#ye" x="1610" y="20"/><text class="c" x="1673.5" y="30">22</text><text class="c" x="1789" y="30">NE-443T22</text><text x="1884" y="30">Rotor Blade (4PCS)</text><text class="c" x="2218.5" y="30">1 set</text></g>
<g transform="translate(0,1012)"><use href="#st" x="1610" y="20"/><text class="c" x="1673.5" y="30">23</text><text class="c" x="1789" y="30">NE-443P23</text><text x="1884" y="30">Rotor</text><text class="c" x="2218.5" y="30">1</text></g>
<g transform="translate(0,1052.2)"><use href="#st" x="1610" y="20"/><text class="c" x="1673.5" y="30">24</text><text class="c" x="1789" y="30">---</text><text x="1884" y="30">Spring Pin</text><text class="c" x="2218.5" y="30">1</text></g>
<g transform="translate(0,1092.4)"><use href="#tr" x="1610" y="20"/><text class="c" x="1673.5" y="30">25</text><text class="c" x="1789" y="30">NE-443T25</text><text x="1884" y="30">Front End Plate (24.25)</text><text class="c" x="2218.5" y="30">1 set</text></g>
<g transform="translate(0,1132.6)"><use href="#tr" x="1610" y="20"/><text class="c" x="1673.5" y="30">26</text><text class="c" x="1789" y="30">NE-443P26</text><text x="1884" y="30">Ball Bearing 608ZZ</text><text class="c" x="2218.5" y="30">1</text></g>
<g transform="translate(0,1172.8)"><use href="#st" x="1610" y="20"/><text class="c" x="1673.5" y="30">27</text><text class="c" x="1789" y="30">NE-443P27</text><text x="1884" y="30">Washer</text><text class="c" x="2218.5" y="30">1</text></g>
<g transform="translate(0,1213)"><use href="#st" x="1610" y="20"/><text class="c" x="1673.5" y="30">28</text><text class="c" x="1789" y="30">NE-443P28</text><text x="1884" y="30">Internal Gear</text><text class="c" x="2218.5" y="30">1</text></g>
<g transform="translate(0,1253.2)"><use href="#tr" x="1610" y="20"/><text class="c" x="1673.5" y="30">29</text><text class="c" x="1789" y="30">NE-443P29</text><text x="1884" y="30">Ball Bearing 6001ZZ</text><text class="c" x="2218.5" y="30">1</text></g>
</g>

<!-- ============ RIGHT TABLE ============ -->
<g class="tb">
<rect x="2270.75" y="163.75" width="710.5" height="1222.5" fill="#fff"/>
<path class="tl" d="M2336,163V1387 M2399,163V1387 M2563,163V1387 M2907,163V1387"/>
<path class="tl" d="M2269,207H2983 M2269,247.1H2983 M2269,321.4H2983 M2269,361.5H2983 M2269,401.6H2983 M2269,441.7H2983 M2269,481.8H2983 M2269,521.9H2983 M2269,596.2H2983 M2269,636.3H2983 M2269,676.4H2983 M2269,716.5H2983 M2269,756.6H2983 M2269,796.7H2983 M2269,836.8H2983 M2269,876.9H2983 M2269,917H2983 M2269,957.1H2983 M2269,997.2H2983 M2269,1037.3H2983 M2269,1077.4H2983 M2269,1117.5H2983 M2269,1191.8H2983 M2269,1266.1H2983 M2269,1306.2H2983 M2269,1346.3H2983"/>
<rect class="to" x="2270.75" y="163.75" width="710.5" height="1222.5"/>
<text class="h" x="2367.5" y="196">NO.</text><text class="h" x="2481" y="196">PART NO.</text><text class="h" x="2735" y="196">DESCRIPTION</text><text class="h" x="2944" y="196">QTY</text>

<g transform="translate(0,207)"><use href="#ye" x="2303.5" y="20"/><text class="c" x="2367.5" y="30">30</text><text class="c" x="2481" y="30">NE-443T30</text><text x="2576" y="30">Gear (2PCS)</text><text class="c" x="2944" y="30">1 set</text></g>
<g transform="translate(0,247.1)"><use href="#ye" x="2303.5" y="37"/><text class="c" x="2367.5" y="47">31</text><text class="c" x="2481" y="47">NE-443T31</text><text x="2576" y="31">Needle Bearing KT477</text><text x="2576" y="63">(2PCS)</text><text class="c" x="2944" y="47">1 set</text></g>
<g transform="translate(0,321.4)"><use href="#ye" x="2303.5" y="20"/><text class="c" x="2367.5" y="30">32</text><text class="c" x="2481" y="30">NE-443T32</text><text x="2576" y="30">Planet Pin (2PCS)</text><text class="c" x="2944" y="30">1 set</text></g>
<g transform="translate(0,361.5)"><use href="#tr" x="2303.5" y="20"/><text class="c" x="2367.5" y="30">33</text><text class="c" x="2481" y="30">NE-443P33</text><text x="2576" y="30">Planet cage</text><text class="c" x="2944" y="30">1</text></g>
<g transform="translate(0,401.6)"><use href="#st" x="2303.5" y="20"/><text class="c" x="2367.5" y="30">34</text><text class="c" x="2481" y="30">NE-443P34</text><text x="2576" y="30">Washer</text><text class="c" x="2944" y="30">1</text></g>
<g transform="translate(0,441.7)"><use href="#tr" x="2303.5" y="20"/><text class="c" x="2367.5" y="30">35</text><text class="c" x="2481" y="30">NE-443P35</text><text x="2576" y="30">Ball Bearing 608ZZ</text><text class="c" x="2944" y="30">1</text></g>
<g transform="translate(0,481.8)"><use href="#st" x="2303.5" y="20"/><text class="c" x="2367.5" y="30">36</text><text class="c" x="2481" y="30">NE-443P36</text><text x="2576" y="30">Clamp Nut</text><text class="c" x="2944" y="30">1</text></g>
<g transform="translate(0,521.9)"><use href="#st" x="2303.5" y="37"/><text class="c" x="2367.5" y="47">37</text><text class="c" x="2481" y="47">NE-443P37</text><text x="2576" y="31">Needle Bearing 1212-</text><text x="2576" y="63">HKQ</text><text class="c" x="2944" y="47">1</text></g>
<g transform="translate(0,596.2)"><use href="#tr" x="2303.5" y="20"/><text class="c" x="2367.5" y="30">38</text><text class="c" x="2481" y="30">NE-443P38</text><text x="2576" y="30">Crank Shaft</text><text class="c" x="2944" y="30">1</text></g>
<g transform="translate(0,636.3)"><use href="#tr" x="2303.5" y="20"/><text class="c" x="2367.5" y="30">39</text><text class="c" x="2481" y="30">NE-443P39</text><text x="2576" y="30">Driver Bushing</text><text class="c" x="2944" y="30">1</text></g>
<g transform="translate(0,676.4)"><use href="#st" x="2303.5" y="20"/><text class="c" x="2367.5" y="30">40</text><text class="c" x="2481" y="30">NE-443P40</text><text x="2576" y="30">Ratchet Housing</text><text class="c" x="2944" y="30">1</text></g>
<g transform="translate(0,716.5)"><use href="#tr" x="2303.5" y="20"/><text class="c" x="2367.5" y="30">41</text><text class="c" x="2481" y="30">NE-443P41</text><text x="2576" y="30">Spring</text><text class="c" x="2944" y="30">1</text></g>
<g transform="translate(0,756.6)"><use href="#tr" x="2303.5" y="20"/><text class="c" x="2367.5" y="30">42</text><text class="c" x="2481" y="30">NE-443P42</text><text x="2576" y="30">Lock Pin</text><text class="c" x="2944" y="30">1</text></g>
<g transform="translate(0,796.7)"><use href="#tr" x="2303.5" y="20"/><text class="c" x="2367.5" y="30">43</text><text class="c" x="2481" y="30">NE-443T43</text><text x="2576" y="30">Spring (2PCS)</text><text class="c" x="2944" y="30">1 set</text></g>
<g transform="translate(0,836.8)"><use href="#tr" x="2303.5" y="20"/><text class="c" x="2367.5" y="30">44</text><text class="c" x="2481" y="30">NE-443T44</text><text x="2576" y="30">Steel Ball (2PCS)</text><text class="c" x="2944" y="30">1 set</text></g>
<g transform="translate(0,876.9)"><use href="#tr" x="2303.5" y="20"/><text class="c" x="2367.5" y="30">45</text><text class="c" x="2481" y="30">NE-443P45</text><text x="2576" y="30">Pin 1/2" Steel Ball 3/8"</text><text class="c" x="2944" y="30">1</text></g>
<g transform="translate(0,917)"><use href="#tr" x="2303.5" y="20"/><text class="c" x="2367.5" y="30">46</text><text class="c" x="2481" y="30">NE-443P46</text><text x="2576" y="30">Yoke</text><text class="c" x="2944" y="30">1</text></g>
<g transform="translate(0,957.1)"><use href="#tr" x="2303.5" y="20"/><text class="c" x="2367.5" y="30">47</text><text class="c" x="2481" y="30">NE-443P47</text><text x="2576" y="30">Reverse Button</text><text class="c" x="2944" y="30">1</text></g>
<g transform="translate(0,997.2)"><use href="#ye" x="2303.5" y="20"/><text class="c" x="2367.5" y="30">48</text><text class="c" x="2481" y="30">NE-443P48</text><text x="2576" y="30">Washer</text><text class="c" x="2944" y="30">1</text></g>
<g transform="translate(0,1037.3)"><use href="#tr" x="2303.5" y="20"/><text class="c" x="2367.5" y="30">49</text><text class="c" x="2481" y="30">NE-443P49</text><text x="2576" y="30">Dowel Pin</text><text class="c" x="2944" y="30">1</text></g>
<g transform="translate(0,1077.4)"><use href="#tr" x="2303.5" y="20"/><text class="c" x="2367.5" y="30">50</text><text class="c" x="2481" y="30">NE-443P50</text><text x="2576" y="30">Ratchet Pawl</text><text class="c" x="2944" y="30">1</text></g>
<g transform="translate(0,1117.5)"><use href="#st" x="2303.5" y="37"/><text class="c" x="2367.5" y="47">51</text><text class="c" x="2481" y="47">---</text><text x="2576" y="31">Steel Ball</text><text x="2576" y="63">(assembled with anvil)</text><text class="c" x="2944" y="47">1</text></g>
<g transform="translate(0,1191.8)"><use href="#st" x="2303.5" y="37"/><text class="c" x="2367.5" y="47">52</text><text class="c" x="2481" y="47">---</text><text x="2576" y="31">Spring</text><text x="2576" y="63">(assembled with anvil)</text><text class="c" x="2944" y="47">1</text></g>
<g transform="translate(0,1266.1)"><use href="#ye" x="2303.5" y="20"/><text class="c" x="2367.5" y="30">53</text><text class="c" x="2481" y="30">NE-443T53</text><text x="2576" y="30">1/2" Anvil Ass'y (51.52.53)</text><text class="c" x="2944" y="30">1 set</text></g>
<g transform="translate(0,1306.2)"><use href="#st" x="2303.5" y="20"/><text class="c" x="2367.5" y="30">54</text><text class="c" x="2481" y="30">NE-443P54</text><text x="2576" y="30">Thrust Washer for 1/2"</text><text class="c" x="2944" y="30">1</text></g>
<g transform="translate(0,1346.3)"><use href="#st" x="2303.5" y="20"/><text class="c" x="2367.5" y="30">55</text><text class="c" x="2481" y="30">NE-443P55</text><text x="2576" y="30">Retaining Ring</text><text class="c" x="2944" y="30">1</text></g>
</g>
</svg>
</body></html>
